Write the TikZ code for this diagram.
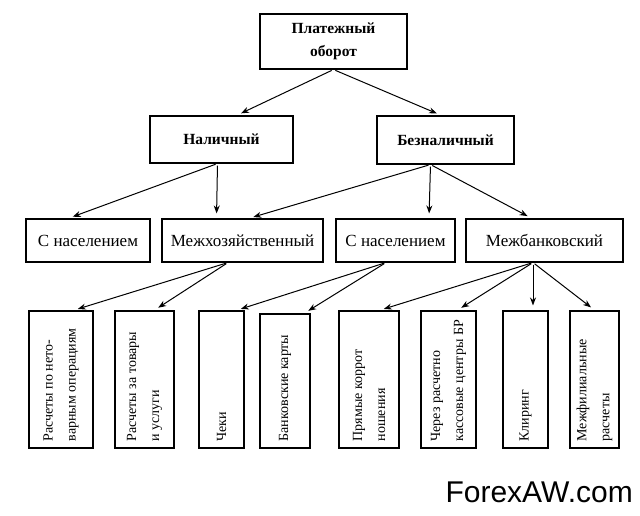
\documentclass[tikz,border=0pt]{standalone}
\usepackage{fontspec}
\setmainfont{Liberation Serif}
\newfontfamily\wmfont{Liberation Sans}
\usetikzlibrary{arrows.meta,calc}
\begin{document}
\begin{tikzpicture}[x=1pt,y=-1pt,
  box/.style={draw,line width=1.1pt,inner sep=0pt},
  topbox/.style={box,font=\fontsize{15.5}{23}\selectfont\bfseries,align=center},
  midbox/.style={box,font=\fontsize{17}{19}\selectfont},
  vbox/.style={box,minimum height=137pt},
  vtext/.style={rotate=90,anchor=west,align=left,inner sep=0pt,font=\fontsize{14}{23}\selectfont},
  arr/.style={-{Stealth[length=8pt,width=6pt]},line width=1pt,shorten >=5pt,shorten <=2pt}]
\useasboundingbox (0,0) rectangle (640,515);
\fill[white] (0,0) rectangle (640,515);
% level 1
\node[topbox,minimum width=147pt,minimum height=55pt] (top) at (333.5,41.5) {Платежный\\оборот};
% level 2
\node[topbox,minimum width=143pt,minimum height=47pt] (nal) at (221.5,139.5) {Наличный};
\node[topbox,minimum width=137pt,minimum height=48pt] (bez) at (445.5,140) {Безналичный};
% level 3
\node[midbox,minimum width=124pt,minimum height=43pt] (sn1) at (88,240.5) {С населением};
\node[midbox,minimum width=161pt,minimum height=43pt] (mh) at (242.5,240.5) {Межхозяйственный};
\node[midbox,minimum width=119pt,minimum height=43pt] (sn2) at (395.5,240.5) {С населением};
\node[midbox,minimum width=157pt,minimum height=43pt] (mb) at (544.5,240.5) {Межбанковский};
% level 4
\node[vbox,minimum width=64pt] (b1) at (61,379.5) {};
\node[vbox,minimum width=59pt] (b2) at (144.5,379.5) {};
\node[vbox,minimum width=45pt] (b3) at (221.5,379.5) {};
\node[vbox,minimum width=50pt,minimum height=134pt] (b4) at (285,381) {};
\node[vbox,minimum width=60pt] (b5) at (369,379.5) {};
\node[vbox,minimum width=55pt] (b6) at (448.5,379.5) {};
\node[vbox,minimum width=45pt] (b7) at (525.5,379.5) {};
\node[vbox,minimum width=49pt] (b8) at (594.5,379.5) {};
\node[vtext] (t1) at ($(b1.south)+(0,-7)$) {Расчеты по нето-\\варным операциям};
\node[vtext] (t2) at ($(b2.south)+(0,-7)$) {Расчеты за товары\\и услуги};
\node[vtext] (t3) at ($(b3.south)+(0,-7)$) {Чеки};
\node[vtext] (t4) at ($(b4.south)+(0,-7)$) {Банковские карты};
\node[vtext] (t5) at ($(b5.south)+(0,-7)$) {Прямые коррот\\ношения};
\node[vtext] (t6) at ($(b6.south)+(0,-7)$) {Через расчетно\\кассовые центры БР};
\node[vtext] (t7) at ($(b7.south)+(0,-7)$) {Клиринг};
\node[vtext] (t8) at ($(b8.south)+(0,-7)$) {Межфилиальные\\расчеты};
% arrows
\draw[arr] (top.south) -- ($(nal.north)+(15,0)$);
\draw[arr] (top.south) -- ($(bez.north)+(-4,0)$);
\draw[arr] ($(nal.south)+(-4,0)$) -- ($(sn1.north)+(-20,0)$);
\draw[arr] ($(nal.south)+(-4,0)$) -- ($(mh.north)+(-26,0)$);
\draw[arr] ($(bez.south)+(-15,0)$) -- ($(mh.north)+(6,0)$);
\draw[arr] ($(bez.south)+(-15,0)$) -- ($(sn2.north)+(33.5,0)$);
\draw[arr] ($(bez.south)+(-15,0)$) -- ($(mb.north)+(-12.5,0)$);
\draw[arr] ($(mh.south)+(-14.5,0)$) -- ($(b1.north)+(12,0)$);
\draw[arr] ($(mh.south)+(-14.5,0)$) -- ($(b2.north)+(9.5,0)$);
\draw[arr] ($(sn2.south)+(-9.5,0)$) -- ($(b3.north)+(14.5,0)$);
\draw[arr] ($(sn2.south)+(-9.5,0)$) -- ($(b4.north)+(19,0)$);
\draw[arr] ($(mb.south)+(-11.5,0)$) -- ($(b5.north)+(10,0)$);
\draw[arr] ($(mb.south)+(-11.5,0)$) -- ($(b6.north)+(8.5,0)$);
\draw[arr] ($(mb.south)+(-11.5,0)$) -- ($(b7.north)+(7.5,0)$);
\draw[arr] ($(mb.south)+(-11.5,0)$) -- ($(b8.north)+(0.5,0)$);
% watermark
\node[anchor=base east,inner sep=0pt,font=\wmfont\fontsize{30}{30}\selectfont] (wm) at (633,502) {ForexAW.com};
\end{tikzpicture}
\end{document}
